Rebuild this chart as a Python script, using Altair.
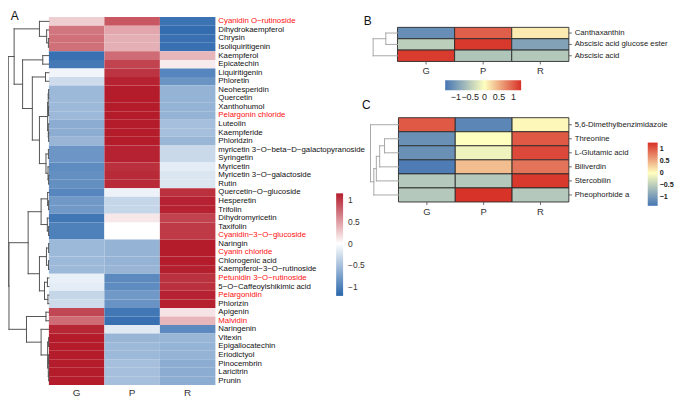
import altair as alt
import pandas as pd

# ---------------- layout helpers (reference px -> view px) ----------------
SX, SY = 0.981, 0.965
def px(rx):
    return round((rx - 1) * SX, 2)
def py(ry):
    return round((ry - 3) * SY, 2)

FONT = "Liberation Sans"
samples = ["G", "P", "R"]

# ---------------- Panel A data ----------------
rows_a = ["Cyanidin O−rutinoside", "Dihydrokaempferol", "Chrysin", "Isoliquiritigenin",
          "Kaempferol", "Epicatechin", "Liquiritigenin", "Phloretin", "Neohesperidin",
          "Quercetin", "Xanthohumol", "Pelargonin chloride", "Luteolin", "Kaempferide",
          "Phloridzin", "myricetin 3−O−beta−D−galactopyranoside", "Syringetin", "Myricetin",
          "Myricetin 3−O−galactoside", "Rutin", "Quercetin−O−glucoside", "Hesperetin",
          "Trifolin", "Dihydromyricetin", "Taxifolin", "Cyanidin−3−O−glucoside", "Naringin",
          "Cyanin chloride", "Chlorogenic acid", "Kaempferol−3−O−rutinoside",
          "Petunidin 3−O−rutinoside", "5−O−Caffeoylshikimic acid", "Pelargonidin",
          "Phlorizin", "Apigenin", "Malvidin", "Naringenin", "Vitexin", "Epigallocatechin",
          "Eriodictyol", "Pinocembrin", "Laricitrin", "Prunin"]
red_a = ["Cyanidin O−rutinoside", "Pelargonin chloride", "Cyanidin−3−O−glucoside",
         "Cyanin chloride", "Petunidin 3−O−rutinoside", "Pelargonidin", "Malvidin"]
g_a = [0.25, 0.70, 0.72, 0.72, -1.12, -1.05, -0.08, -0.28, -0.55, -0.55, -0.55, -0.55,
       -0.65, -0.65, -0.58, -0.82, -0.82, -0.90, -0.88, -0.88, -0.95, -0.80, -0.80, -1.07,
       -1.00, -1.00, -0.55, -0.55, -0.55, -0.55, -0.12, -0.15, -0.32, -0.28, 0.93, 0.75,
       1.10, 1.15, 1.15, 1.15, 1.15, 1.15, 1.15]
p_a = [0.85, 0.45, 0.40, 0.40, 0.75, 0.95, 1.03, 1.12, 1.15, 1.15, 1.15, 1.15,
       1.15, 1.15, 1.15, 1.12, 1.12, 1.05, 1.08, 1.08, -0.10, -0.32, -0.32, 0.12,
       0.00, 0.00, -0.60, -0.60, -0.60, -0.58, -0.92, -0.90, -0.80, -0.85, -1.07, -1.12,
       -0.17, -0.58, -0.55, -0.55, -0.50, -0.50, -0.50]
r_a = [-1.10, -1.15, -1.12, -1.12, 0.37, 0.10, -0.95, -0.84, -0.60, -0.60, -0.60, -0.60,
       -0.50, -0.50, -0.57, -0.30, -0.30, -0.15, -0.20, -0.20, 1.05, 1.12, 1.12, 0.95,
       1.00, 1.00, 1.15, 1.15, 1.15, 1.13, 1.04, 1.05, 1.12, 1.13, 0.14, 0.37,
       -0.92, -0.57, -0.60, -0.60, -0.65, -0.65, -0.65]
# dendrogram: [left, right, height]; leaves are row indices
tree_a = [
    [[0, [1, [2, 3, 0.5], 2.3], 9.7],
     [[4, 5, 6.3],
      [[6, 7, 3.5],
       [[[[8, 9, 0.3], [10, 11, 0.4], 0.7], [12, [13, 14, 0.3], 0.6], 1.3],
        [[15, 16, 0.5], [17, [18, 19, 0.3], 0.9], 3.0], 9.7],
       17.0],
      27.0],
     35.7],
    [[[[20, [21, 22, 0.3], 1.3], [23, [24, 25, 0.3], 1.6], 8.0],
      [[[26, 27, 0.3], [28, 29, 0.4], 2.5], [[30, 31, 1.5], [32, 33, 1.0], 4.5], 9.7],
      21.3],
     [[34, 35, 3.0],
      [36, [[37, 38, 0.3], [[39, 40, 0.3], [41, 42, 0.2], 0.6], 1.3], 8.0],
      23.0],
     41.0],
    41.7]

# ---------------- Panel B data ----------------
rows_b = ["Canthaxanthin", "Abscisic acid glucose ester", "Abscisic acid"]
g_b = [-1.12, -0.50, 1.20]
p_b = [0.98, 1.22, -0.58]
r_b = [0.12, -0.92, -0.56]
tree_b = [[0, 1, 12.0], 2, 25.0]

# ---------------- Panel C data ----------------
rows_c = ["5,6-Dimethylbenzimidazole", "Threonine", "L-Glutamic acid", "Biliverdin",
          "Stercobilin", "Pheophorbide a"]
g_c = [1.02, -1.10, -1.10, -1.30, -0.55, -0.55]
p_c = [-1.20, 0.00, -0.12, 0.40, -0.55, 1.25]
r_c = [0.05, 1.02, 1.12, 0.85, 1.22, -0.55]
tree_c = [0, [[[[1, 2, 14.3], 3, 19.3], 4, 22.7], 5, 25.3], 28.7]

legend_vals = [-1, -0.5, 0, 0.5, 1]


def long_df(names, g, p, r):
    recs = []
    for i, n in enumerate(names):
        for s, v in zip(samples, (g[i], p[i], r[i])):
            recs.append({"compound": n, "sample": s, "z": v})
    return pd.DataFrame(recs)


def dendro_df(tree):
    segs = []
    def walk(node):
        if isinstance(node, int):
            return node + 0.5, 0.0
        left, right, h = node
        y1, h1 = walk(left)
        y2, h2 = walk(right)
        segs.append({"h1": h1, "h2": h, "y1": y1, "y2": y1})
        segs.append({"h1": h2, "h2": h, "y1": y2, "y2": y2})
        segs.append({"h1": h, "h2": h, "y1": y1, "y2": y2})
        return (y1 + y2) / 2, h
    walk(tree)
    return pd.DataFrame(segs)


def panel(names, g, p, r, tree, reds, geo, color_scale, legend, style):
    left, right, top, bottom, hmax, lab_x, col_y = geo
    df = long_df(names, g, p, r)
    xs = alt.Scale(domain=samples, range=[px(left), px(right)], padding=0)
    ys = alt.Scale(domain=names, range=[py(top), py(bottom)], padding=0)
    xp = alt.Scale(type="point", domain=samples, range=[px(left), px(right)], padding=0.5)
    yp = alt.Scale(type="point", domain=names, range=[py(top), py(bottom)], padding=0.5)
    layers = []
    heat = alt.Chart(df).mark_rect(
        stroke=style["border"], strokeWidth=style["bw"], strokeOpacity=style["bo"]
    ).encode(
        x=alt.X("sample:N", scale=xs, axis=None),
        y=alt.Y("compound:N", scale=ys, axis=None),
        color=alt.Color("z:Q", scale=color_scale, legend=legend, title=None),
    )
    layers.append(heat)
    lab_df = pd.DataFrame({"compound": names,
                           "lc": ["#ff1010" if n in reds else style["lab_col"] for n in names]})
    labels = alt.Chart(lab_df).mark_text(
        align="left", baseline="middle", font=FONT, fontSize=style["lab_size"]
    ).encode(
        y=alt.Y("compound:N", scale=yp, axis=None),
        x=alt.value(px(lab_x)),
        text="compound:N",
        color=alt.Color("lc:N", scale=None),
    )
    layers.append(labels)
    col_df = pd.DataFrame({"sample": samples})
    cols = alt.Chart(col_df).mark_text(
        align="center", baseline="middle", font=FONT, fontSize=style["col_size"], color="#333333"
    ).encode(
        x=alt.X("sample:N", scale=xp, axis=None),
        y=alt.value(py(col_y)),
        text="sample:N",
    )
    layers.append(cols)
    if style["ticks"]:
        rt = alt.Chart(lab_df).mark_rule(color="#444444", strokeWidth=0.8).encode(
            y=alt.Y("compound:N", scale=yp, axis=None),
            x=alt.value(px(right)), x2=alt.value(px(right) + 3))
        ct = alt.Chart(col_df).mark_rule(color="#444444", strokeWidth=0.8).encode(
            x=alt.X("sample:N", scale=xp, axis=None),
            y=alt.value(py(bottom)), y2=alt.value(py(bottom) + 3))
        layers += [rt, ct]
    dd = dendro_df(tree)
    dendro = alt.Chart(dd).mark_rule(
        color=style["dcol"], strokeWidth=1, strokeCap="square"
    ).encode(
        x=alt.X("h1:Q", scale=alt.Scale(domain=[0, hmax], range=[px(left), px(left - hmax)],
                                          nice=False, zero=False), axis=None),
        x2="h2:Q",
        y=alt.Y("y1:Q", scale=alt.Scale(domain=[0, len(names)], range=[py(top), py(bottom)],
                                          nice=False, zero=False), axis=None),
        y2="y2:Q",
    )
    layers.append(dendro)
    return layers


def letter(t, rx, vy):
    return alt.Chart(pd.DataFrame({"t": [t]})).mark_text(
        align="center", baseline="alphabetic", font=FONT, fontSize=12, color="#111111"
    ).encode(text="t:N", x=alt.value(px(rx)), y=alt.value(vy))


scale_a = alt.Scale(domain=[-1.2, 0, 1.15], range=["#2a66ab", "#ffffff", "#b41c2b"],
                    interpolate="rgb", clamp=True)
legend_a = alt.Legend(orient="none", legendX=px(338), legendY=py(195), direction="vertical",
                      gradientLength=round(107 * SY, 1), gradientThickness=7,
                      gradientStrokeWidth=0, values=legend_vals, format=".1~f", labelFont=FONT,
                      labelFontSize=8.5, labelColor="#333333", labelOffset=5,
                      labelOverlap=False)
scale_bc = dict(domain=[-1.37, 0, 1.27], range=["#4575b4", "#ffffbf", "#d73027"],
                interpolate="rgb", clamp=True)
legend_b = alt.Legend(orient="none", legendX=px(450), legendY=py(77), direction="horizontal",
                      gradientLength=round(78 * SX, 1), gradientThickness=10,
                      gradientStrokeWidth=0, values=legend_vals, format=".1~f", labelFont=FONT,
                      labelFontSize=9, labelColor="#222222", labelOffset=3,
                      labelOverlap=False)
legend_c = alt.Legend(orient="none", legendX=px(658), legendY=py(142), direction="vertical",
                      gradientLength=round(66 * SY, 1), gradientThickness=10,
                      gradientStrokeWidth=0, values=legend_vals, format=".1~f", labelFont=FONT,
                      labelFontSize=7.2, labelFontWeight="bold", labelColor="#222222",
                      labelOffset=2, labelOverlap=False)

style_a = dict(border="#ffffff", bw=0, bo=0, lab_col="#111111", lab_size=7.9,
               col_size=10, ticks=False, dcol="#555555")
style_bc = dict(border="#2b2b2b", bw=0.9, bo=1, lab_col="#222222", lab_size=7.8,
                col_size=9.5, ticks=True, dcol="#a8a8a8")

layers = []
layers += panel(rows_a, g_a, p_a, r_a, tree_a, red_a,
                (43, 214, 11, 395, 42, 217, 403), scale_a, legend_a, style_a)
layers += panel(rows_b, g_b, p_b, r_b, tree_b, [],
                (401, 577, 21.7, 57.3, 25, 583, 67), alt.Scale(**scale_bc), legend_b, style_bc)
layers += panel(rows_c, g_c, p_c, r_c, tree_c, [],
                (402, 577, 116, 204, 29, 583, 214), alt.Scale(**scale_bc), legend_c, style_bc)
layers += [letter("A", 8, 10.5), letter("B", 370.5, py(19.5)), letter("C", 369, py(107))]

chart = alt.layer(*layers).resolve_scale(
    x="independent", y="independent", color="independent"
).properties(
    width=674, height=390, padding=0, autosize="none"
).configure_view(strokeWidth=0)

chart.save("out.html", embed_options={"renderer": "svg", "actions": False})
